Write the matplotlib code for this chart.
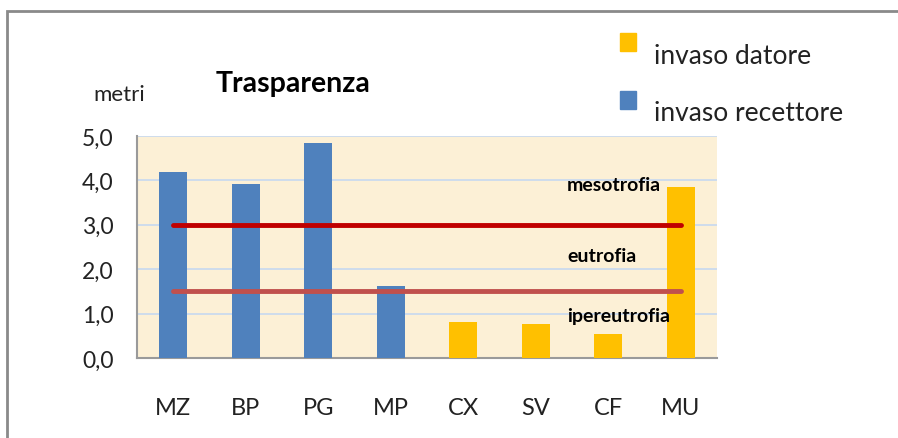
import matplotlib
matplotlib.use("Agg")
from matplotlib import pyplot as plt
from matplotlib.patches import Rectangle

# data
sites = ["MZ", "BP", "PG", "MP", "CX", "SV", "CF", "MU"]
transparency = [4.2, 3.93, 4.85, 1.63, 0.8, 0.76, 0.53, 3.86]
kind = ["recettore", "recettore", "recettore", "recettore",
        "datore", "datore", "datore", "datore"]
thresholds = [3.0, 1.5]
zone_labels = ["mesotrofia", "eutrofia", "ipereutrofia"]
zone_label_y = [3.9, 2.3, 0.95]
y_ticks = [0, 1, 2, 3, 4, 5]

BLUE = "#4f81bd"
YELLOW = "#ffc000"
colors = {"recettore": BLUE, "datore": YELLOW}

plt.rcParams['font.family'] = ['Lato', 'DejaVu Sans']

fig = plt.figure(figsize=(8.98, 4.39), dpi=100)
fig.patch.set_facecolor("white")

# outer chart frame (runs off the right and bottom edges)
fig.add_artist(Rectangle((7 / 898, -0.1), 1.2, 1 - 12 / 439 + 0.1,
                         transform=fig.transFigure, fill=False,
                         edgecolor="#8a8a8a", linewidth=2))

ax = fig.add_axes([137 / 898, 80 / 439, 580 / 898, 222 / 439])
ax.set_facecolor("#fcf0d6")

x = range(len(sites))
ax.bar(x, transparency, width=0.39,
       color=[colors[k] for k in kind], zorder=3)

ax.plot([0, len(sites) - 1], [thresholds[0]] * 2, color="#c00000",
        linewidth=3.5, solid_capstyle="round", zorder=4)
ax.plot([0, len(sites) - 1], [thresholds[1]] * 2, color="#c0504d",
        linewidth=3.5, solid_capstyle="round", zorder=4)

for lab, yy in zip(zone_labels, zone_label_y):
    ax.text(5.43, yy, lab, fontsize=14, fontweight="bold",
            color="black", va="center", ha="left", zorder=5)

ax.set_xlim(-0.5, len(sites) - 0.5)
ax.set_ylim(0, 5)
ax.set_yticks(y_ticks)
ax.set_yticklabels([f"{v:.1f}".replace(".", ",") for v in y_ticks],
                   fontsize=16.5, color="#222222")
ax.set_xticks(list(x))
ax.set_xticklabels(sites, fontsize=17, color="#222222")
ax.tick_params(axis="both", length=0)
ax.tick_params(axis="y", pad=17)
ax.tick_params(axis="x", pad=28)

ax.grid(axis="y", color="#c6d9f0", linewidth=1.2, zorder=1)
for side in ["top", "right"]:
    ax.spines[side].set_visible(False)
ax.spines["left"].set_color("#9a9a9a")
ax.spines["bottom"].set_color("#9a9a9a")
ax.spines["left"].set_linewidth(1.5)
ax.spines["bottom"].set_linewidth(1.5)

# title and unit
fig.text(216 / 898, 1 - 84 / 439, "Trasparenza", fontsize=20.5,
         fontweight="bold", va="center", ha="left")
fig.text(93 / 898, 1 - 95 / 439, "metri", fontsize=16,
         va="center", ha="left", color="#222222")

# legend
fig.add_artist(Rectangle((620 / 898, 1 - 52 / 439), 16 / 898, 18 / 439,
                         transform=fig.transFigure, color=YELLOW))
fig.add_artist(Rectangle((620 / 898, 1 - 110 / 439), 16 / 898, 18 / 439,
                         transform=fig.transFigure, color=BLUE))
fig.text(654 / 898, 1 - 56 / 439, "invaso datore", fontsize=19,
         va="center", ha="left", color="#222222")
fig.text(654 / 898, 1 - 114 / 439, "invaso recettore", fontsize=19,
         va="center", ha="left", color="#222222")

plt.savefig("out.png", dpi=100)
